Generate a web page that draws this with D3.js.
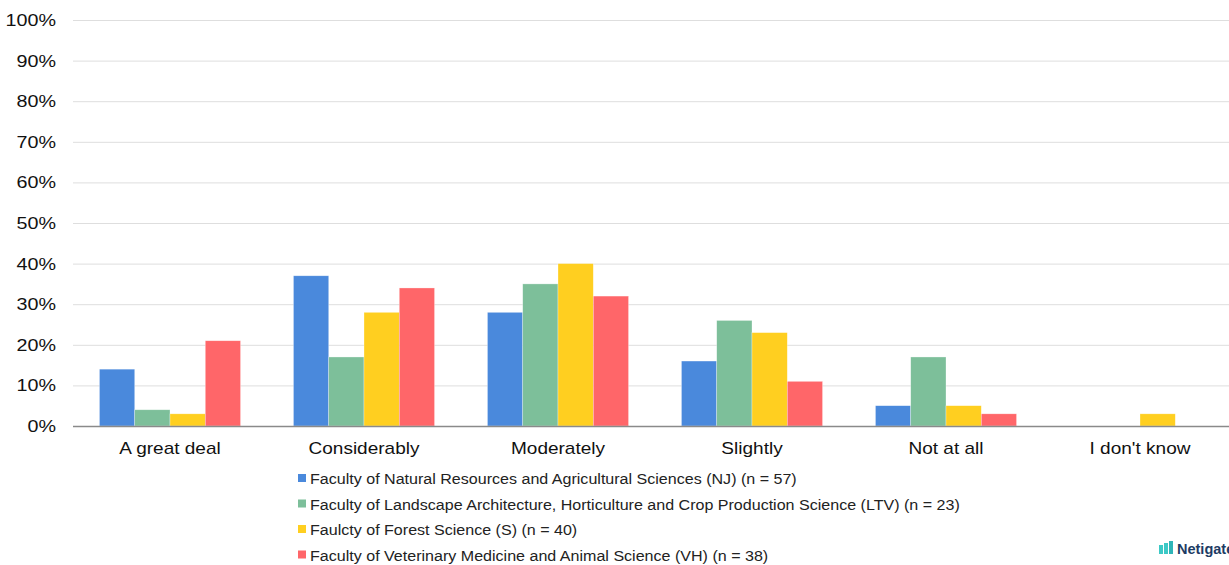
<!DOCTYPE html>
<html><head><meta charset="utf-8">
<script src="https://cdn.jsdelivr.net/npm/d3@7"></script>
<style>
html,body{margin:0;padding:0;background:#fff;overflow:hidden;}
svg{display:block;font-family:"Liberation Sans",Arial,sans-serif;}
</style></head>
<body>
<svg id="c" width="1229" height="565"></svg>
<script>
const categories = ["A great deal","Considerably","Moderately","Slightly","Not at all","I don't know"];
const seriesNames = [
  "Faculty of Natural Resources and Agricultural Sciences (NJ) (n = 57)",
  "Faculty of Landscape Architecture, Horticulture and Crop Production Science (LTV) (n = 23)",
  "Faulcty of Forest Science (S) (n = 40)",
  "Faculty of Veterinary Medicine and Animal Science (VH) (n = 38)"
];
const nj  = [14, 37, 28, 16, 5, 0];
const ltv = [4, 17, 35, 26, 17, 0];
const s   = [3, 28, 40, 23, 5, 3];
const vh  = [21, 34, 32, 11, 3, 0];
const seriesValues = [nj, ltv, s, vh];
const colors = ["#4A89DC","#7DBF9A","#FFCF20","#FF6669"];
const yTicks = [0,10,20,30,40,50,60,70,80,90,100];

(function(){
const svg = d3.select("#c");
const mLeft = 73, mRight = 1237, mTop = 20, mBottom = 426;

const x = d3.scaleBand().domain(categories).range([mLeft, mRight]).paddingInner(0).paddingOuter(0);
const inner = d3.scaleBand().domain(d3.range(seriesValues.length))
  .range([0, x.bandwidth()]).paddingOuter(0.75).paddingInner(0);
const y = d3.scaleLinear().domain([0, 100]).range([mBottom, mTop]);

// gridlines
svg.append("g").selectAll("line").data(yTicks.filter(d=>d>0)).join("line")
  .attr("x1", mLeft).attr("x2", 1229)
  .attr("y1", d=>y(d)+0.5).attr("y2", d=>y(d)+0.5)
  .attr("stroke", "#dedede").attr("stroke-width", 1);

// y labels (horizontally stretched like the reference)
svg.append("g").selectAll("text").data(yTicks).join("text")
  .attr("transform", d=>`translate(56,${y(d)+6}) scale(1.16,1)`)
  .attr("text-anchor","end").attr("font-size", 17).attr("fill","#111")
  .text(d=>d+"%");

// bars
const groups = svg.append("g").selectAll("g").data(categories).join("g")
  .attr("transform", d=>`translate(${x(d)},0)`);
groups.selectAll("rect").data((c,i)=>seriesValues.map((arr,k)=>({k, v:arr[i]})))
  .join("rect")
  .attr("x", d=>inner(d.k))
  .attr("width", inner.bandwidth())
  .attr("y", d=>y(d.v))
  .attr("height", d=>mBottom - y(d.v))
  .attr("fill", d=>colors[d.k])
  .attr("stroke", "#ffffff").attr("stroke-opacity", 0.5).attr("stroke-width", 0.6);

// baseline
svg.append("line").attr("x1", mLeft).attr("x2", 1229)
  .attr("y1", mBottom+0.5).attr("y2", mBottom+0.5)
  .attr("stroke", "#8a8a8a").attr("stroke-width", 1.5);

// category labels
svg.append("g").selectAll("text").data(categories).join("text")
  .attr("transform", d=>`translate(${x(d)+x.bandwidth()/2},454) scale(1.12,1)`)
  .attr("text-anchor","middle").attr("font-size", 17).attr("fill","#111")
  .text(d=>d);

// legend
const leg = svg.append("g").selectAll("g").data(seriesNames).join("g")
  .attr("transform", (d,i)=>`translate(298,${480 + i*25.5})`);
leg.append("rect").attr("x",0).attr("y",-6).attr("width",8).attr("height",8)
  .attr("fill",(d,i)=>colors[i]);
leg.append("text").attr("transform","translate(12,4) scale(1.085,1)")
  .attr("font-size",14.8).attr("fill","#222").text(d=>d);

// logo
const logo = svg.append("g").attr("transform","translate(1159,542)");
logo.append("rect").attr("x",0).attr("y",3).attr("width",4).attr("height",9).attr("fill","#3cc9c6");
logo.append("rect").attr("x",5).attr("y",1).attr("width",4).attr("height",11).attr("fill","#3cc9c6");
logo.append("rect").attr("x",10).attr("y",-1).attr("width",4).attr("height",13).attr("fill","#2fb5b8");
logo.append("text").attr("x",18).attr("y",12).attr("font-size",14.5).attr("font-weight","bold")
  .attr("fill","#1d3b64").text("Netigate");
})();
</script>
</body></html>
